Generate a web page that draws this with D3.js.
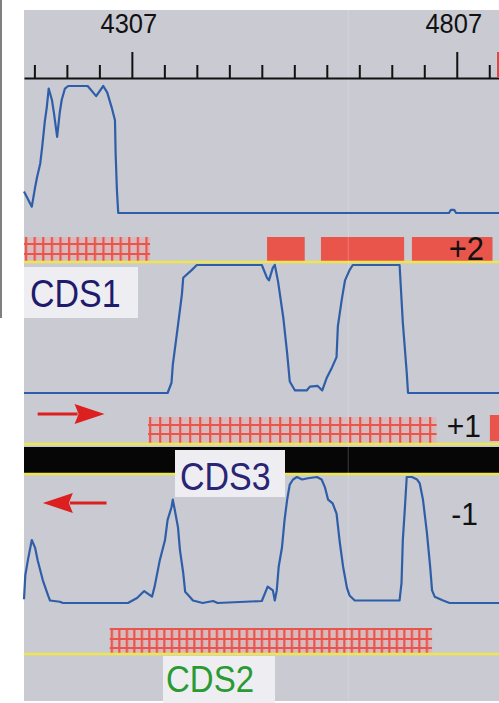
<!DOCTYPE html>
<html><head><meta charset="utf-8">
<script src="https://cdn.jsdelivr.net/npm/d3@7"></script>
<style>html,body{margin:0;padding:0;background:#fff;overflow:hidden}svg{display:block}</style>
</head><body><svg id="c" width="499" height="703"></svg>
<script>
// ---------- data ----------
const majorTicks = [4307, 4807];
const minorTicks = [4157, 4207, 4257, 4357, 4407, 4457, 4507, 4557, 4607, 4657, 4707, 4757, 4857];
const frameLabels = ["+2", "+1", "-1"];
const cdsNames = ["CDS1", "CDS3", "CDS2"];

// coding probability curves (bp, %)
const curveTop = [[4141,17],[4153,5],[4158,20],[4161,28],[4166,39],[4169,52],[4173,72],[4176,83],[4179,98],[4184,89],[4187,79],[4192,60],[4196,79],[4199,89],[4204,98],[4209,100],[4239,100],[4252,92],[4263,100],[4269,95],[4276,83],[4281,73],[4282,47],[4284,18],[4286,0],[4795,0],[4798,2.5],[4803,2.5],[4806,0],[4872,0]];
const curveMid = [[4141,0],[4362,0],[4368,8],[4370,22],[4378,53],[4384,77],[4386,90],[4399,96],[4407,100],[4507,100],[4515,90],[4518,88],[4524,98],[4527,100],[4532,87],[4540,59],[4546,31],[4550,9],[4558,2],[4576,2],[4581,5],[4593,5.5],[4600,2],[4607,12],[4615,20],[4622,28],[4624,52],[4630,73],[4635,88],[4642,96],[4647,100],[4719,100],[4721,82],[4724,55],[4730,16],[4732,0],[4872,0]];
const curveBot = [[4141,3],[4143,22],[4147,34],[4153,50],[4158,44],[4162,34],[4170,18],[4178,6],[4181,2],[4196,1],[4201,0],[4301,0],[4315,4],[4326,9.5],[4338,5],[4342,13],[4350,34],[4358,50],[4362,66],[4368,76],[4370,82],[4373,74],[4378,60],[4381,42],[4386,24],[4389,9],[4396,5],[4401,2],[4416,0],[4432,1.6],[4439,0],[4507,1.6],[4516,13],[4524,10],[4527,2],[4530,10],[4533,29],[4538,44],[4542,66],[4546,82],[4550,94],[4555,98],[4561,100],[4569,98],[4578,99],[4592,100],[4599,98],[4604,92],[4609,82],[4616,79],[4622,71],[4627,48],[4632,29],[4638,12],[4642,6],[4650,2],[4719,2],[4722,16],[4724,50],[4727,74],[4730,100],[4738,100],[4746,98],[4750,95],[4755,82],[4761,56],[4766,29],[4769,10],[4773,5],[4786,2],[4796,0],[4872,0]];

// ORF segments (bp start, bp end)
const hatchTop = [[4141, 4335]];
const solidTop = [[4515, 4573], [4598, 4726], [4738, 4862]];
const hatchMid = [[4332, 4776]];
const solidMid = [[4858, 4872]];
const hatchBot = [[4273, 4769]];
const gridLine = [4640];
const arrowRight = [4162, 4265];
const arrowLeft = [4268, 4170];

// ---------- layout ----------
const svg = d3.select("#c");
const L = 24, R = 499;
const x = d3.scaleLinear().domain([4141, 4872]).range([L, R]);
const yTop = d3.scaleLinear().domain([0, 100]).range([213, 86]);
const yMid = d3.scaleLinear().domain([0, 100]).range([393, 265]);
const yBot = d3.scaleLinear().domain([0, 100]).range([603, 477]);

const GRAY = "#c9cad2", BLUE = "#2f5ea8", RED = "#ea554b", YEL = "#efe64d";
const FONT = "'Liberation Sans', Arial, sans-serif";

svg.append("rect").attr("x", 0).attr("y", 0).attr("width", 499).attr("height", 703).attr("fill", "#fff");
svg.append("line").attr("x1", 1).attr("x2", 1).attr("y1", 0).attr("y2", 318).attr("stroke", "#555").attr("stroke-width", 1.5);
svg.append("rect").attr("x", L).attr("y", 10).attr("width", R - L).attr("height", 691).attr("fill", GRAY);

// patterns
const defs = svg.append("defs");
function hatchPattern(id, x0, y0, w, h, hLines) {
  const p = defs.append("pattern").attr("id", id).attr("patternUnits", "userSpaceOnUse")
    .attr("x", x0).attr("y", y0).attr("width", w).attr("height", h);
  p.append("rect").attr("width", w).attr("height", h).attr("fill", "#d9b9bb");
  p.append("rect").attr("x", 1).attr("y", 0).attr("width", 2.2).attr("height", h).attr("fill", RED);
  hLines.forEach(v => p.append("rect").attr("x", 0).attr("y", v).attr("width", w).attr("height", 2).attr("fill", RED));
}
hatchPattern("hTop", x(hatchTop[0][0]), 237, 8.6, 25, [6, 16]);
hatchPattern("hMid", x(hatchMid[0][0]), 417, 10, 26, [7, 16]);
hatchPattern("hBot", x(hatchBot[0][0]), 628, 7.5, 26, [0, 10, 19]);

function bars(data, y, h, fill) {
  svg.append("g").selectAll("rect").data(data).join("rect")
    .attr("x", d => x(d[0])).attr("width", d => x(d[1]) - x(d[0]))
    .attr("y", y).attr("height", h).attr("fill", fill);
}
bars(hatchTop, 237, 25, "url(#hTop)");
bars(solidTop, 237, 25, RED);
bars(hatchMid, 417, 26, "url(#hMid)");
bars(solidMid, 415, 26, RED);
bars(hatchBot, 628, 26, "url(#hBot)");

// black bar
svg.append("rect").attr("x", L).attr("y", 447).attr("width", R - L).attr("height", 26).attr("fill", "#060606");

// yellow baselines
[262, 444, 474, 654].forEach(yy =>
  svg.append("line").attr("x1", L).attr("x2", R).attr("y1", yy).attr("y2", yy)
    .attr("stroke", YEL).attr("stroke-width", 2.5));

// faint grid line
svg.append("g").selectAll("line").data(gridLine).join("line")
  .attr("x1", d => x(d)).attr("x2", d => x(d)).attr("y1", 10).attr("y2", 701)
  .attr("stroke", "#fff").attr("stroke-opacity", 0.22).attr("stroke-width", 1);

// ruler
const ruler = svg.append("g").attr("transform", "translate(0,78)")
  .call(d3.axisTop(x).tickValues([...minorTicks, ...majorTicks].sort((a, b) => a - b))
    .tickSize(13).tickSizeOuter(0).tickFormat(""));
ruler.select(".domain").attr("stroke", "#111").attr("stroke-width", 2);
ruler.selectAll(".tick line").attr("stroke", "#111").attr("stroke-width", 2)
  .attr("y2", d => majorTicks.includes(d) ? -26 : -13);
function stext(txt, tx, ty, size, color, anchor, sy) {
  svg.append("text").attr("transform", `translate(${tx},${ty}) scale(1,${sy || 1.1})`)
    .attr("text-anchor", anchor || "start").attr("font-family", FONT).attr("font-size", size)
    .attr("fill", color).text(txt);
}
majorTicks.forEach(t => stext(String(t), x(t) - 3, 33, 25.5, "#111", "middle", 1.1));
svg.append("rect").attr("x", 497).attr("y", 52).attr("width", 2).attr("height", 26).attr("fill", "#e04848");

// curves
function curve(data, ys) {
  svg.append("path").datum(data)
    .attr("d", d3.line().x(d => x(d[0])).y(d => ys(d[1])))
    .attr("fill", "none").attr("stroke", BLUE).attr("stroke-width", 2.2).attr("stroke-linejoin", "round");
}
curve(curveTop, yTop);
curve(curveMid, yMid);
curve(curveBot, yBot);

// label boxes
const BOX = "#eeeef2";
svg.append("rect").attr("x", L).attr("y", 267).attr("width", 114).attr("height", 51).attr("fill", BOX);
svg.append("rect").attr("x", 175).attr("y", 450).attr("width", 110).attr("height", 47).attr("fill", BOX);
svg.append("rect").attr("x", 163).attr("y", 656).attr("width", 112).attr("height", 47).attr("fill", BOX);
stext(cdsNames[0], 30, 307, 34, "#1f1b6c", "start", 1.12);
stext(cdsNames[1], 180, 490, 34, "#2a2474", "start", 1.12);
stext(cdsNames[2], 166, 692, 33, "#2a9a32", "start", 1.1);

// frame labels
stext(frameLabels[0], 484, 260, 31, "#111", "end", 1.05);
stext(frameLabels[1], 481, 437, 30, "#111", "end", 1.05);
stext(frameLabels[2], 478, 525, 30, "#111", "end", 1.05);

// strand arrows
const AR = "#dc1f1f";
function arrow(from, to, yy) {
  const x0 = x(from), x1 = x(to), dir = Math.sign(x1 - x0), hl = 30;
  svg.append("line").attr("x1", x0).attr("x2", x1 - dir * hl + dir * 3).attr("y1", yy).attr("y2", yy)
    .attr("stroke", AR).attr("stroke-width", 3);
  svg.append("path").attr("d", `M${x1},${yy} L${x1 - dir * hl},${yy - 10} L${x1 - dir * (hl - 4)},${yy} L${x1 - dir * hl},${yy + 10} Z`)
    .attr("fill", AR);
}
arrow(arrowRight[0], arrowRight[1], 414);
arrow(arrowLeft[0], arrowLeft[1], 503);
</script></body></html>
